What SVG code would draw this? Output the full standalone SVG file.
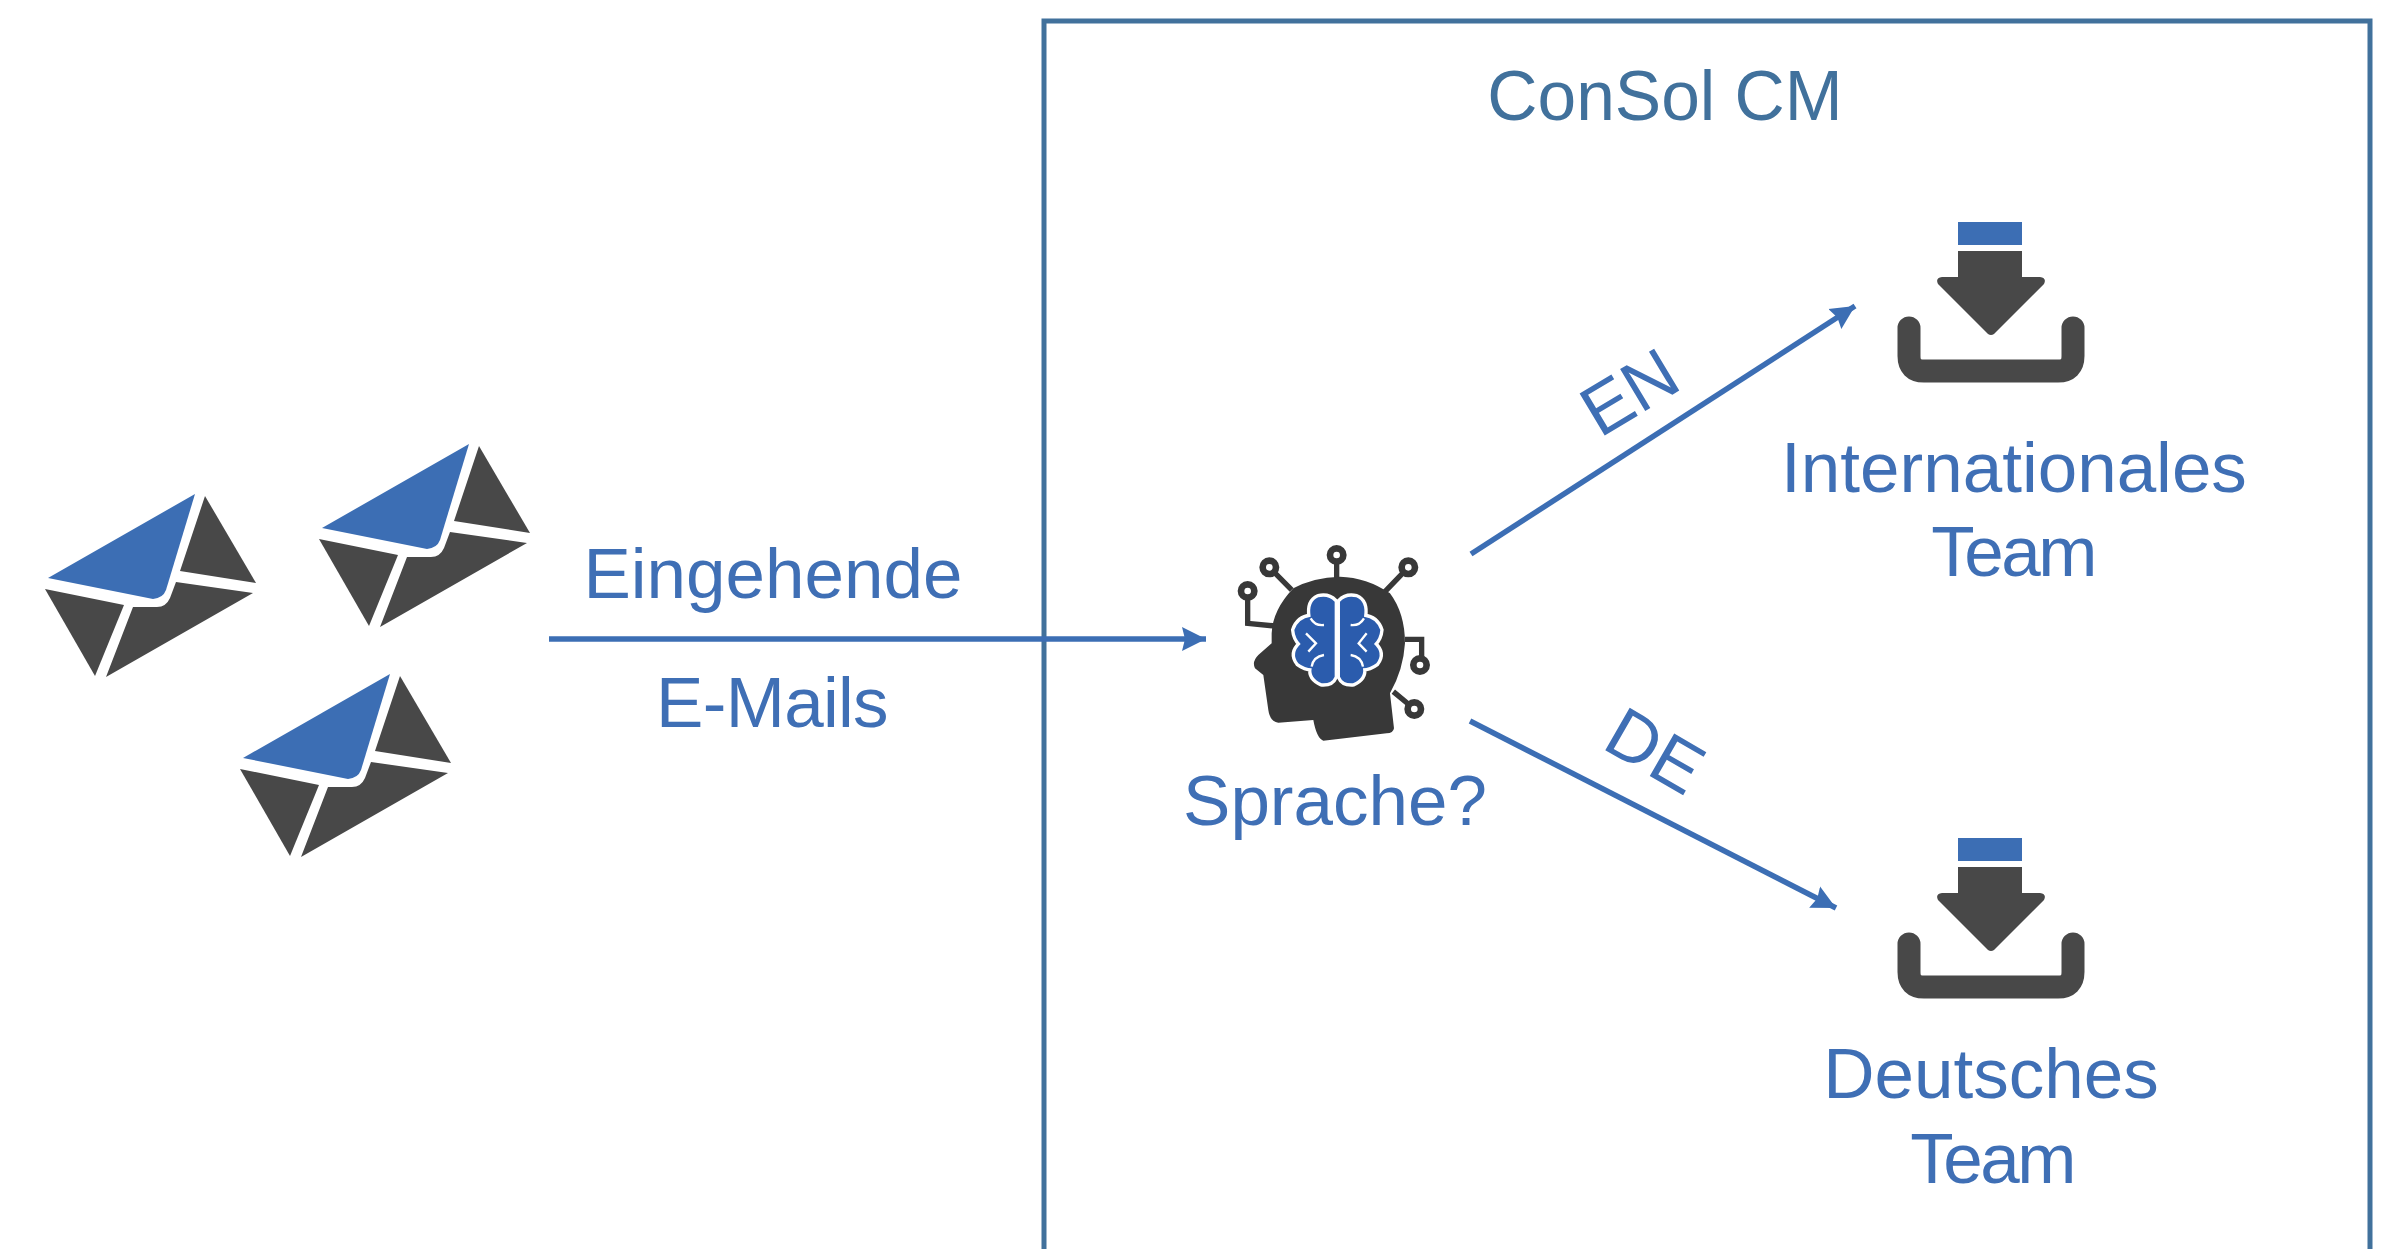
<svg xmlns="http://www.w3.org/2000/svg" width="2393" height="1249" viewBox="0 0 2393 1249">
<style>
text{font-family:"Liberation Sans",Arial,sans-serif;font-size:71px;fill:#3f6fb5;text-anchor:middle}
.title{fill:#41719c;font-size:69.5px}
.team{letter-spacing:-2.5px}
.dark{fill:#484848}
.blue{fill:#3c6eb4}
.conn{fill:none;stroke:#3c6eb4;stroke-width:5.5}
.lobe{fill:#2b5cad;stroke:#fff;stroke-width:20;paint-order:stroke}
</style>
<defs>
<marker id="arrow" markerUnits="userSpaceOnUse" markerWidth="26" markerHeight="26" refX="24" refY="13" orient="auto">
<path d="M0 1L24 13L0 25L3 13Z" fill="#3c6eb4"/>
</marker>
<g id="envelope">
<path class="blue" d="M48 578L195 494L166 590Q163 598 153 599Z"/>
<path class="dark" d="M205 496L256 583L180 571Z"/>
<path class="dark" d="M45 589L124 605L95 676Z"/>
<path class="dark" d="M106 677L253 593L176 582L170 598Q166 607 157 607L133 607Z"/>
</g>
<g id="inbox">
<rect class="blue" x="1958" y="222" width="64" height="23"/>
<path class="dark" d="M1958 251H2022V277H2040Q2047 278 2044 284L1994 334Q1991 336 1988 334L1938 284Q1935 278 1942 277H1958Z"/>
<path d="M1909 328V356Q1909 371 1924 371H2058Q2073 371 2073 356V328" fill="none" stroke="#484848" stroke-width="23" stroke-linecap="round"/>
</g>
</defs>
<rect width="2393" height="1249" fill="#fff"/>
<g id="consol-cm">
<path d="M1044 1249V21H2370V1249" fill="none" stroke="#41719c" stroke-width="5"/>
<text class="title" x="1665" y="120">ConSol CM</text>
</g>
<g id="emails">
<use href="#envelope"/>
<use href="#envelope" transform="translate(274 -50)"/>
<use href="#envelope" transform="translate(195 180)"/>
</g>
<g id="connectors">
<path class="conn" d="M549 639H1206" marker-end="url(#arrow)"/>
<path class="conn" d="M1471 554L1855 306" marker-end="url(#arrow)"/>
<path class="conn" d="M1470 721L1836 908" marker-end="url(#arrow)"/>
<text x="773" y="598">Eingehende</text>
<text x="772" y="727" style="letter-spacing:-.7px">E-Mails</text>
<text transform="translate(1642 413) rotate(-31)" x="0" y="0">EN</text>
<text transform="translate(1643 772) rotate(30)" x="0" y="0">DE</text>
</g>
<g id="sprache">
<g transform="translate(1200 520) scale(.3333)">
<g fill="none" stroke="#383838" stroke-width="16">
<path d="M410 105V185M208 142L275 210M143 213V310L225 318M625 142L555 215M615 358H665V435M580 515L643 567"/>
</g>
<g fill="#fff" stroke="#383838" stroke-width="20">
<circle cx="410" cy="105" r="20"/><circle cx="208" cy="142" r="20"/><circle cx="143" cy="213" r="20"/><circle cx="625" cy="142" r="20"/><circle cx="660" cy="435" r="20"/><circle cx="643" cy="567" r="20"/>
</g>
<path fill="#383838" d="M215 340Q218 270 280 205Q340 172 420 170Q500 172 570 220Q615 280 615 370Q610 450 570 520L582 625Q580 640 560 640L370 662Q350 655 340 600L235 608Q210 605 205 570L190 465L165 445Q155 425 175 405L215 370Z"/>
<path class="lobe" d="M404 245Q385 225 355 232Q325 245 332 290Q295 295 283 330Q285 355 302 372Q272 400 295 430Q315 445 335 445Q330 475 365 490Q395 492 404 470Z"/>
<path class="lobe" d="M420 245Q439 225 469 232Q499 245 492 290Q529 295 541 330Q539 355 522 372Q552 400 529 430Q509 445 489 445Q494 475 459 490Q429 492 420 470Z"/>
<path fill="none" stroke="#fff" stroke-width="7" d="M332 295Q345 318 372 315M318 340L348 370L325 395M335 440Q340 410 372 405M492 295Q479 318 452 315M500 340L476 370L500 395M489 440Q484 410 452 405"/>
</g>
<text x="1335" y="825">Sprache?</text>
</g>
<g id="internationales-team">
<use href="#inbox"/>
<text x="2014" y="492">Internationales</text>
<text class="team" x="2013" y="576">Team</text>
</g>
<g id="deutsches-team">
<use href="#inbox" transform="translate(0 616)"/>
<text x="1991" y="1098">Deutsches</text>
<text class="team" x="1992" y="1183">Team</text>
</g>
</svg>
